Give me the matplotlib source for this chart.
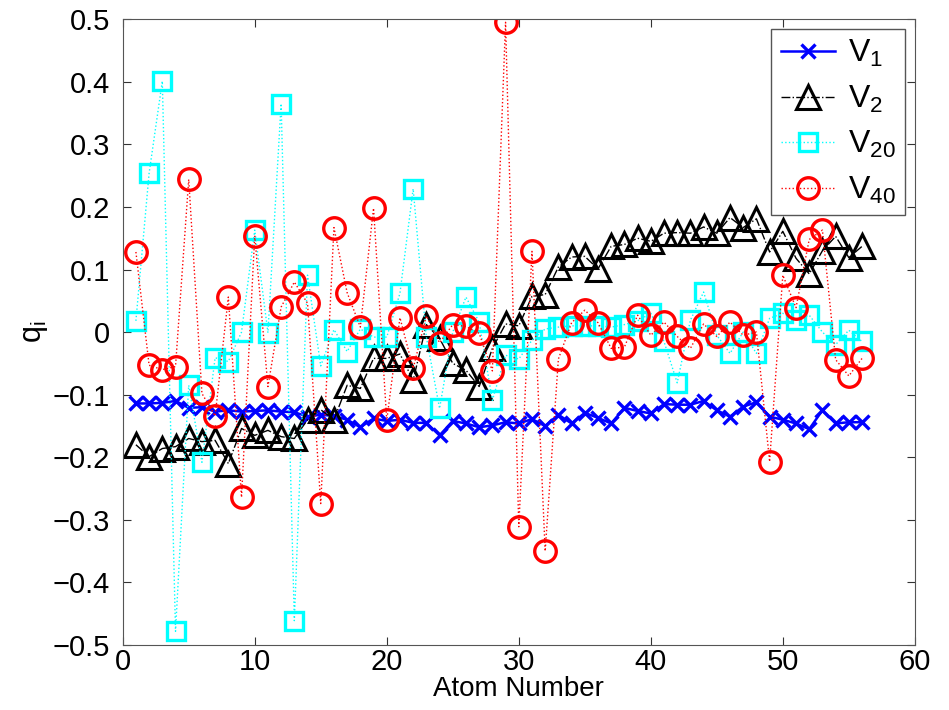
import numpy as np
from matplotlib import pyplot as plt
from matplotlib.ticker import FuncFormatter, MultipleLocator

plt.rcParams['font.family'] = ['Liberation Sans', 'DejaVu Sans']
plt.rcParams['mathtext.default'] = 'regular'

atom = list(range(1, 57))

v1 = [-0.114, -0.114, -0.113, -0.110, -0.121, -0.120, -0.127, -0.125, -0.127, -0.126,
      -0.125, -0.127, -0.128, -0.135, -0.132, -0.134, -0.140, -0.152, -0.138, -0.142,
      -0.140, -0.145, -0.145, -0.165, -0.142, -0.146, -0.152, -0.149, -0.144, -0.146,
      -0.139, -0.150, -0.132, -0.146, -0.129, -0.137, -0.146, -0.121, -0.126, -0.130,
      -0.115, -0.116, -0.116, -0.110, -0.125, -0.135, -0.119, -0.112, -0.135, -0.140,
      -0.146, -0.155, -0.125, -0.146, -0.144, -0.144]

v2 = [-0.180, -0.199, -0.186, -0.183, -0.170, -0.175, -0.173, -0.210, -0.154, -0.165,
      -0.157, -0.167, -0.170, -0.140, -0.124, -0.140, -0.085, -0.090, -0.042, -0.042,
      -0.035, -0.077, 0.012, -0.010, -0.050, -0.061, -0.087, -0.026, 0.013, 0.010,
      0.057, 0.060, 0.104, 0.120, 0.121, 0.101, 0.137, 0.140, 0.150, 0.145,
      0.158, 0.159, 0.158, 0.168, 0.158, 0.183, 0.167, 0.181, 0.128, 0.161,
      0.118, 0.093, 0.130, 0.153, 0.119, 0.137]

v20 = [0.018, 0.254, 0.401, -0.478, -0.085, -0.208, -0.041, -0.047, 0.000, 0.163,
       -0.001, 0.365, -0.461, 0.091, -0.054, 0.004, -0.031, 0.005, -0.008, -0.008,
       0.062, 0.229, -0.008, -0.122, 0.000, 0.056, 0.016, -0.109, -0.037, -0.043,
       -0.013, 0.005, 0.008, 0.010, 0.010, 0.010, 0.008, 0.012, 0.018, 0.030,
       -0.015, -0.081, 0.019, 0.064, -0.005, -0.034, 0.000, -0.034, 0.022, 0.030,
       0.020, 0.027, 0.000, -0.020, 0.003, -0.015]

v40 = [0.128, -0.053, -0.060, -0.055, 0.244, -0.098, -0.134, 0.056, -0.264, 0.154,
       -0.087, 0.040, 0.080, 0.046, -0.274, 0.167, 0.063, 0.008, 0.198, -0.141,
       0.023, -0.058, 0.026, -0.017, 0.012, 0.009, -0.002, -0.062, 0.495, -0.311,
       0.129, -0.350, -0.043, 0.015, 0.035, 0.015, -0.026, -0.024, 0.027, -0.005,
       0.016, -0.007, -0.026, 0.013, -0.007, 0.016, -0.005, 0.000, -0.207, 0.091,
       0.039, 0.148, 0.163, -0.044, -0.070, -0.042]

fig = plt.figure(figsize=(9.49, 7.10), dpi=100)
ax = fig.add_axes([0.1293, 0.0915, 0.8347, 0.8815])

ax.plot(atom, v1, color='blue', ls='-', lw=1.8, marker='x', ms=10, mew=2.4,
        label='$V_1$')
ax.plot(atom, v2, color='black', ls='-.', lw=1.0, marker='^', ms=17, mew=2.2,
        mfc='none', label='$V_2$')
ax.plot(atom, v20, color='cyan', ls=':', lw=1.0, marker='s', ms=13.5, mew=2.4,
        mfc='none', label='$V_{20}$')
ax.plot(atom, v40, color='red', ls=':', lw=1.0, marker='o', ms=15.5, mew=2.4,
        mfc='none', label='$V_{40}$')

ax.set_xlim(0, 60)
ax.set_ylim(-0.5, 0.5)
ax.xaxis.set_major_locator(MultipleLocator(10))
ax.yaxis.set_major_locator(MultipleLocator(0.1))
ax.yaxis.set_major_formatter(FuncFormatter(
    lambda v, _: ('%g' % round(v, 2)).replace('-', '\u2212')))
ax.tick_params(direction='in', length=6, width=0.8, labelsize=21,
               top=True, right=True, colors='#333333', labelcolor='black')
ax.tick_params(axis='y', pad=9)
ax.tick_params(axis='x', pad=2)
for s in ax.spines.values():
    s.set_color('#555555')

ax.set_xlabel('Atom Number', fontsize=20, labelpad=0)
ax.set_ylabel('$q_i$', fontsize=22, labelpad=2)

leg = ax.legend(loc='upper right', fontsize=23, handlelength=1.7,
                borderaxespad=0.3, labelspacing=0.45, handletextpad=0.4,
                borderpad=0.3, fancybox=False, framealpha=1, edgecolor='#555555')

fig.savefig('out.png', dpi=100)
